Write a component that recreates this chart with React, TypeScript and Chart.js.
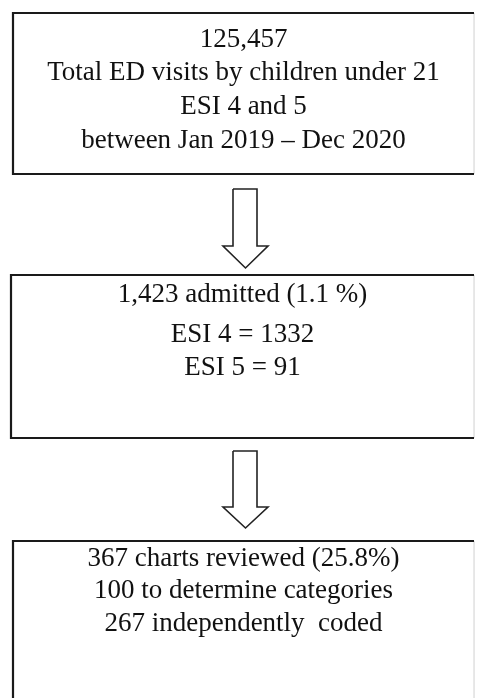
import React, { useEffect, useRef } from "react";
import { Chart, registerables } from "chart.js";

Chart.register(...registerables);

// Text content of the three flowchart boxes
const box1Lines = [
  "125,457",
  "Total ED visits by children under 21",
  "ESI 4 and 5",
  "between Jan 2019 \u2013 Dec 2020",
];
const box2Lines = ["1,423 admitted (1.1 %)", "ESI 4 = 1332", "ESI 5 = 91"];
const box3Lines = [
  "367 charts reviewed (25.8%)",
  "100 to determine categories",
  "267 independently  coded",
];

// Box extents (in the chart's coordinate units: x 0..477, y 0..698 top-down)
const boxLeft = [13, 11, 13];
const boxRight = [474, 474, 474];
const boxTop = [13, 275, 541];
const boxBottom = [174, 438, 730];
const boxBaselines = [
  [47, 80, 114, 148],
  [302, 342, 375],
  [566, 598, 631],
];

// Arrows between boxes
const arrowTop = [189, 451];
const arrowNeck = [246, 507];
const arrowTip = [268, 528];
const arrowShaft = [233, 257];
const arrowHead = [223, 268];

const allLines = [box1Lines, box2Lines, box3Lines];

export default function App() {
  const ref = useRef<HTMLCanvasElement>(null);
  useEffect(() => {
    document.body.style.margin = "0";
    const canvas = ref.current!;
    const datasets: any[] = [];
    for (let i = 0; i < 3; i++) {
      datasets.push({
        data: [
          { x: boxRight[i], y: boxTop[i] },
          { x: boxLeft[i], y: boxTop[i] },
          { x: boxLeft[i], y: boxBottom[i] },
          { x: boxRight[i], y: boxBottom[i] },
        ],
        borderColor: "#1a1a1a",
        borderWidth: 2.2,
      });
      datasets.push({
        data: [
          { x: boxRight[i], y: boxTop[i] },
          { x: boxRight[i], y: boxBottom[i] },
        ],
        borderColor: "#e4e4e4",
        borderWidth: 1,
      });
    }
    for (let i = 0; i < 2; i++) {
      const cx = (arrowHead[0] + arrowHead[1]) / 2;
      datasets.push({
        data: [
          { x: arrowShaft[0], y: arrowTop[i] },
          { x: arrowShaft[1], y: arrowTop[i] },
          { x: arrowShaft[1], y: arrowNeck[i] },
          { x: arrowHead[1], y: arrowNeck[i] },
          { x: cx, y: arrowTip[i] },
          { x: arrowHead[0], y: arrowNeck[i] },
          { x: arrowShaft[0], y: arrowNeck[i] },
          { x: arrowShaft[0], y: arrowTop[i] },
        ],
        borderColor: "#222",
        borderWidth: 1.6,
      });
    }
    datasets.forEach((d) => {
      d.showLine = true;
      d.pointRadius = 0;
      d.fill = false;
      d.tension = 0;
      d.clip = false;
      d.borderJoinStyle = "miter";
    });

    const textPlugin = {
      id: "boxText",
      afterDatasetsDraw(chart: any) {
        const ctx = chart.ctx;
        const xs = chart.scales.x;
        const ys = chart.scales.y;
        ctx.save();
        ctx.fillStyle = "#111";
        ctx.font = '27px "Liberation Serif", "Times New Roman", serif';
        ctx.textAlign = "center";
        ctx.textBaseline = "alphabetic";
        allLines.forEach((lines, i) => {
          const cx = xs.getPixelForValue((boxLeft[i] + boxRight[i]) / 2);
          lines.forEach((t, j) => {
            ctx.fillText(t, cx, ys.getPixelForValue(boxBaselines[i][j]));
          });
        });
        ctx.restore();
      },
    };

    const chart = new Chart(canvas, {
      type: "scatter",
      data: { datasets },
      options: {
        animation: false,
        responsive: false,
        devicePixelRatio: 1,
        layout: { padding: 0 },
        plugins: { legend: { display: false }, tooltip: { enabled: false } },
        events: [],
        scales: {
          x: { type: "linear", min: 0, max: 477, display: false },
          y: { type: "linear", min: 0, max: 698, reverse: true, display: false },
        },
      },
      plugins: [textPlugin],
    });
    return () => chart.destroy();
  }, []);
  return (
    <div style={{ position: "absolute", left: 0, top: 0, width: 477, height: 698, background: "#fff" }}>
      <canvas ref={ref} width={477} height={698} style={{ width: 477, height: 698, display: "block" }} />
    </div>
  );
}
